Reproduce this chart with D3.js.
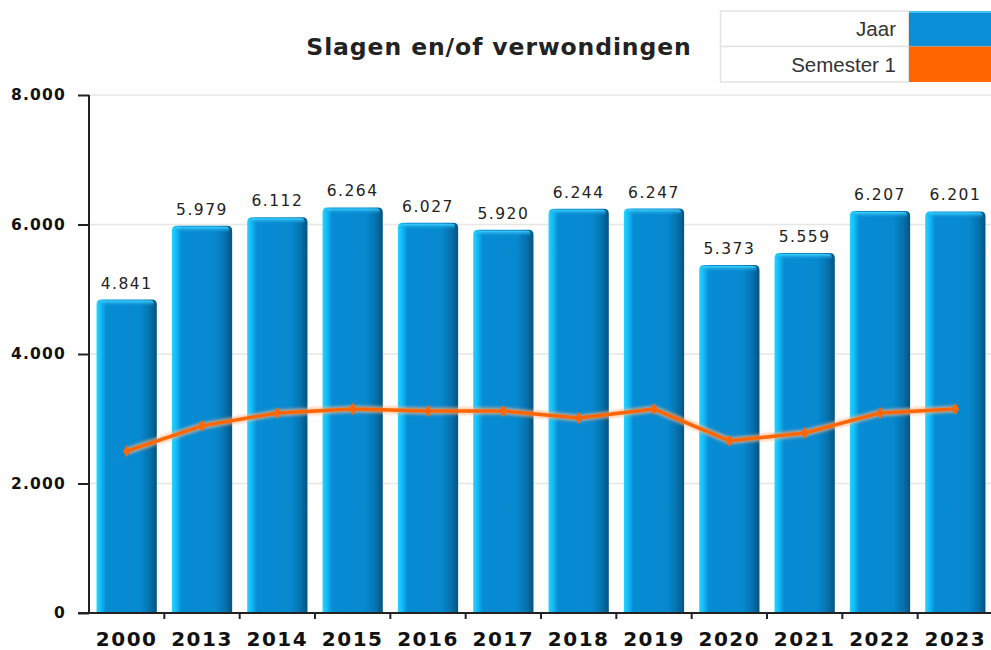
<!DOCTYPE html>
<html><head><meta charset="utf-8">
<script src="https://cdn.jsdelivr.net/npm/d3@7"></script>
<style>body{margin:0;background:#fff}svg{display:block}</style>
</head><body>
<svg id="c" width="991" height="650"></svg>
<script>
const categories = ["2000","2013","2014","2015","2016","2017","2018","2019","2020","2021","2022","2023"];
const jaar = [4841,5979,6112,6264,6027,5920,6244,6247,5373,5559,6207,6201];
const semester1 = [2500,2890,3090,3150,3120,3120,3010,3150,2660,2780,3090,3150];
const yTicks = [0,2000,4000,6000,8000];
const seriesNames = ["Jaar","Semester 1"];
const seriesColors = ["#0a8ed6","#ff6600"];

(function(){
const fmt = v => d3.format(",")(v).replace(/,/g,".");
const svg = d3.select("#c");
const pL = 89, pR = 993, pT = 95, pB = 613;
const x = d3.scaleBand().domain(categories).range([pL, pR]).paddingInner(0.2).paddingOuter(0.1);
const xb = d3.scaleBand().domain(categories).range([pL, pR]);
const y = d3.scaleLinear().domain([0,8000]).range([pB, pT]);

const defs = svg.append("defs");
const g = defs.append("linearGradient").attr("id","barg").attr("x1","0").attr("x2","1").attr("y1","0").attr("y2","0");
[[0,"#22d4ff"],[0.07,"#14bcf7"],[0.16,"#078cd4"],[0.72,"#0789cf"],[0.88,"#0672ae"],[1,"#04547f"]]
  .forEach(([o,c])=>g.append("stop").attr("offset",o).attr("stop-color",c));
const gt = defs.append("linearGradient").attr("id","topg").attr("x1","0").attr("x2","0").attr("y1","0").attr("y2","1");
[[0,"#40d4ff"],[1,"rgba(10,142,214,0)"]].forEach(([o,c])=>gt.append("stop").attr("offset",o).attr("stop-color",c));
const f = defs.append("filter").attr("id","glow").attr("x","-5%").attr("y","-50%").attr("width","110%").attr("height","200%");
f.append("feGaussianBlur").attr("stdDeviation",1.5);

// grid
svg.append("g").selectAll("line").data(yTicks.filter(d=>d>0)).join("line")
  .attr("x1",pL).attr("x2",991).attr("y1",d=>y(d)).attr("y2",d=>y(d))
  .attr("stroke","#e6e6e6").attr("stroke-width",1.5);

// title
svg.append("text").attr("x",499).attr("y",55).attr("text-anchor","middle")
  .attr("font-family","DejaVu Sans").attr("font-weight","bold").attr("font-size",23.5)
  .attr("letter-spacing",0.9).attr("fill","#222").text("Slagen en/of verwondingen");

// bars
const bars = svg.append("g");
bars.selectAll("path.bar").data(categories).join("path").attr("class","bar")
  .attr("d",(d,i)=>{const x0=x(d), w=x.bandwidth(), y0=y(jaar[i]), r=5;
    return `M${x0},${pB}V${y0+r}Q${x0},${y0} ${x0+r},${y0}H${x0+w-r}Q${x0+w},${y0} ${x0+w},${y0+r}V${pB}Z`;})
  .attr("fill","url(#barg)");
bars.selectAll("rect.top").data(categories).join("rect").attr("class","top")
  .attr("x",d=>x(d)+3).attr("width",x.bandwidth()-6).attr("y",(d,i)=>y(jaar[i])+1).attr("height",6)
  .attr("rx",3).attr("fill","url(#topg)");

// value labels
svg.append("g").selectAll("text").data(categories).join("text")
  .attr("x",d=>x(d)+x.bandwidth()/2).attr("y",(d,i)=>y(jaar[i])-11)
  .attr("text-anchor","middle").attr("font-family","DejaVu Sans").attr("font-size",15.5)
  .attr("letter-spacing",1.5).attr("fill","#222").text((d,i)=>fmt(jaar[i]));

// line
const line = d3.line().x((d,i)=>x(categories[i])+x.bandwidth()/2).y(d=>y(d));
svg.append("path").datum(semester1).attr("d",line).attr("fill","none")
  .attr("stroke","#ffb080").attr("stroke-width",7).attr("opacity",0.7).attr("filter","url(#glow)");
svg.append("path").datum(semester1).attr("d",line).attr("fill","none")
  .attr("stroke","#ff6600").attr("stroke-width",3.5).attr("stroke-linejoin","round");
svg.append("g").selectAll("path").data(semester1).join("path")
  .attr("transform",(d,i)=>`translate(${x(categories[i])+x.bandwidth()/2},${y(d)})`)
  .attr("d",d3.symbol(d3.symbolDiamond,45)).attr("fill","#ff6600");

// y axis
const ya = svg.append("g").attr("transform",`translate(${pL},0)`)
  .call(d3.axisLeft(y).tickValues(yTicks).tickFormat(fmt).tickSize(11).tickPadding(12));
ya.select(".domain").attr("stroke","#222").attr("stroke-width",2).attr("d",`M0,${pT}V${pB}`);
ya.selectAll(".tick line").attr("stroke","#222").attr("stroke-width",2);
ya.selectAll("text").attr("font-family","DejaVu Sans").attr("font-weight","bold").attr("font-size",15.5)
  .attr("letter-spacing",1.2).attr("fill","#111");

// x axis
const xa = svg.append("g").attr("transform",`translate(0,${pB})`);
xa.append("line").attr("x1",78).attr("x2",991).attr("y1",0).attr("y2",0).attr("stroke","#222").attr("stroke-width",2);
xa.selectAll("line.t").data(categories.slice(1)).join("line").attr("class","t")
  .attr("x1",d=>xb(d)).attr("x2",d=>xb(d)).attr("y1",0).attr("y2",6).attr("stroke","#222").attr("stroke-width",2);
xa.selectAll("text").data(categories).join("text")
  .attr("x",d=>xb(d)+xb.bandwidth()/2).attr("y",33).attr("text-anchor","middle")
  .attr("font-family","DejaVu Sans").attr("font-weight","bold").attr("font-size",20).attr("letter-spacing",1.5)
  .attr("fill","#111").text(d=>d);

// legend
const lg = svg.append("g");
seriesNames.forEach((n,i)=>{
  const y0 = 11 + i*35.5;
  lg.append("rect").attr("x",720.5).attr("y",y0).attr("width",188).attr("height",35.5)
    .attr("fill","#fff").attr("stroke","#e3e3e3").attr("stroke-width",1.5);
  lg.append("rect").attr("x",909).attr("y",y0).attr("width",82).attr("height",35.5).attr("fill",seriesColors[i]);
  lg.append("text").attr("x",896).attr("y",y0+25).attr("text-anchor","end")
    .attr("font-family","Liberation Sans, Arial").attr("font-size",20.5).attr("fill","#333").text(n);
});
lg.append("line").attr("x1",909).attr("x2",991).attr("y1",12).attr("y2",12).attr("stroke","#5ad0ff").attr("stroke-width",1.5);
})();
</script>
</body></html>
